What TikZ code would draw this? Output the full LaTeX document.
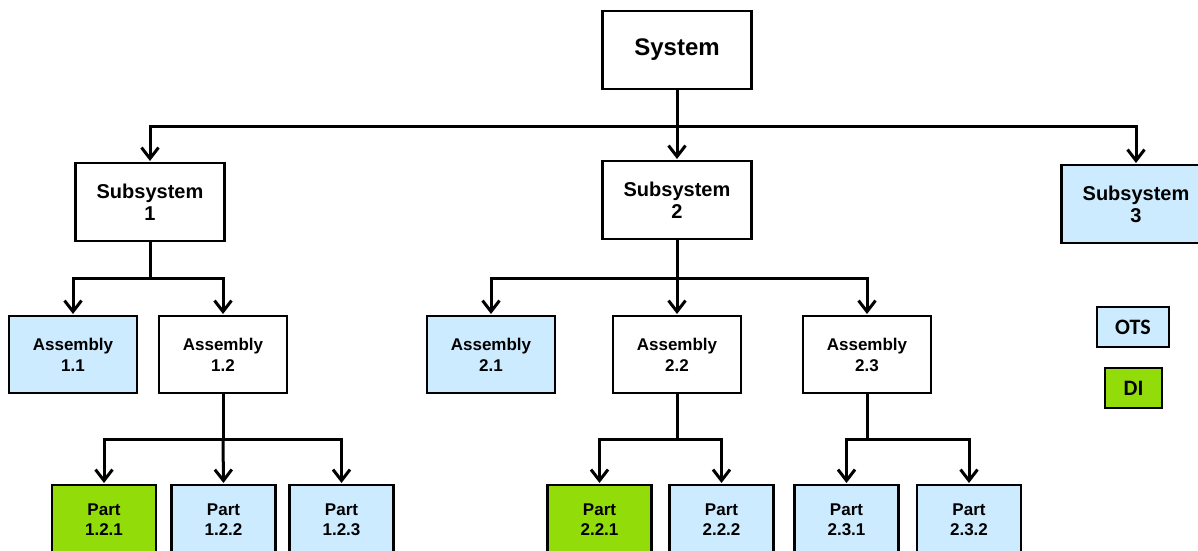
\documentclass[tikz,border=0pt]{standalone}
\usepackage{fontspec}
\setmainfont{Liberation Sans}
\newfontfamily\legendfont{Carlito}
\usetikzlibrary{arrows.meta}
\definecolor{ots}{HTML}{CCEBFF}
\definecolor{di}{HTML}{92DC0A}
\tikzset{
  box/.style={draw=black, line width=2.8pt, inner sep=0pt, outer sep=0pt, align=center, font=\bfseries},
  sysbox/.style={box, minimum width=149pt, minimum height=78pt, font=\bfseries\fontsize{24}{28}\selectfont},
  subbox/.style={box, minimum width=149pt, minimum height=78pt, font=\bfseries\fontsize{20}{22}\selectfont},
  asmbox/.style={box, minimum width=128pt, minimum height=77pt, font=\bfseries\fontsize{17}{21}\selectfont},
  partbox/.style={box, minimum width=104pt, minimum height=70pt, font=\bfseries\fontsize{17}{20}\selectfont},
  legbox/.style={box, font=\legendfont\bfseries\fontsize{22}{24}\selectfont},
  conn/.style={draw=black, line width=3pt},
  arr/.style={conn, -{Straight Barb[length=11pt,width=17pt,line width=3pt]}, shorten >=2pt},
}
\begin{document}
\begin{tikzpicture}[x=1pt,y=-1pt]
\useasboundingbox (0,0) rectangle (1198,550);
\clip (0,0) rectangle (1198,550);
% nodes
\node[sysbox, fill=white] (sys) at (677,50) {System};
\node[subbox, fill=white] (s1) at (150,202) {Subsystem\\1};
\node[subbox, fill=white] (s2) at (677,200) {Subsystem\\2};
\node[subbox, fill=ots] (s3) at (1136,204) {Subsystem\\3};
\node[asmbox, fill=ots] (a11) at (73,354.5) {Assembly\\1.1};
\node[asmbox, fill=white] (a12) at (223,354.5) {Assembly\\1.2};
\node[asmbox, fill=ots] (a21) at (491,354.5) {Assembly\\2.1};
\node[asmbox, fill=white] (a22) at (677,354.5) {Assembly\\2.2};
\node[asmbox, fill=white] (a23) at (867,354.5) {Assembly\\2.3};
\node[partbox, fill=di] (p121) at (104,520) {Part\\1.2.1};
\node[partbox, fill=ots] (p122) at (223.5,520) {Part\\1.2.2};
\node[partbox, fill=ots] (p123) at (341.5,520) {Part\\1.2.3};
\node[partbox, fill=di] (p221) at (599.5,520) {Part\\2.2.1};
\node[partbox, fill=ots] (p222) at (721.5,520) {Part\\2.2.2};
\node[partbox, fill=ots] (p231) at (846.5,520) {Part\\2.3.1};
\node[partbox, fill=ots] (p232) at (969,520) {Part\\2.3.2};
\node[legbox, fill=ots, minimum width=72pt, minimum height=40pt] (lots) at (1133,327) {OTS};
\node[legbox, fill=di, minimum width=57pt, minimum height=40pt] (ldi) at (1133.5,388) {DI};
% junctions
\coordinate (j0) at (677,126);
\coordinate (j1) at (150,278);
\coordinate (j2) at (677,278);
\coordinate (j12) at (223,439);
\coordinate (j22) at (677,439);
\coordinate (j23) at (867,439);
% connectors
\draw[conn] (sys.south) -- (j0);
\draw[arr] (j0) -| (s1.north);
\draw[arr] (j0) -| (s3.north);
\draw[arr] (j0) -- (s2.north);
\draw[conn] (s1.south) -- (j1);
\draw[arr] (j1) -| (a11.north);
\draw[arr] (j1) -| (a12.north);
\draw[conn] (s2.south) -- (j2);
\draw[arr] (j2) -| (a21.north);
\draw[arr] (j2) -- (a22.north);
\draw[arr] (j2) -| (a23.north);
\draw[conn] (a12.south) -- (j12);
\draw[arr] (j12) -| (p121.north);
\draw[arr] (j12) -- (p122.north);
\draw[arr] (j12) -| (p123.north);
\draw[conn] (a22.south) -- (j22);
\draw[arr] (j22) -| (p221.north);
\draw[arr] (j22) -| (p222.north);
\draw[conn] (a23.south) -- (j23);
\draw[arr] (j23) -| (p231.north);
\draw[arr] (j23) -| (p232.north);
\end{tikzpicture}
\end{document}
